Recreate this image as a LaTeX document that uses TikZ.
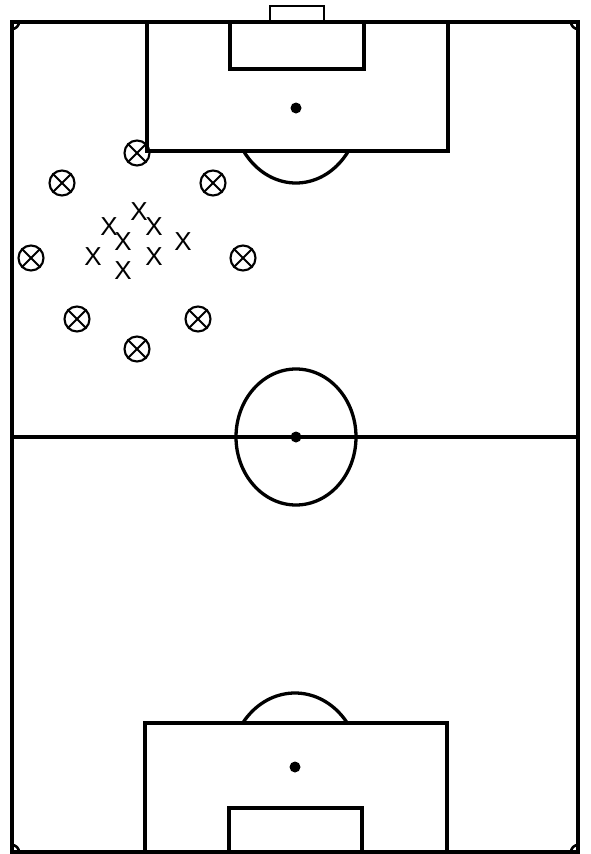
\documentclass[tikz,border=0pt]{standalone}
\usepackage{fontspec}
\setmainfont{Liberation Sans}
\begin{document}
\begin{tikzpicture}[x=1pt,y=-1pt,
  pitchline/.style={line width=3.3pt, line join=miter},
  thinline/.style={line width=2.6pt},
  spot/.style={circle, fill=black, inner sep=0pt, minimum size=11pt},
  opp/.style={circle, draw, line width=2.1pt, minimum size=25pt, inner sep=0pt},
  att/.style={inner sep=0pt, font=\fontsize{26}{26}\selectfont}]
\useasboundingbox (0,0) rectangle (590,854);
\fill[white] (0,0) rectangle (590,854);
% pitch outline and halfway line
\draw[pitchline] (12,22) rectangle (578,852);
\draw[pitchline] (12,437) -- (578,437);
% centre circle and spot
\draw[pitchline] (296,437) ellipse [x radius=60, y radius=68];
\node[spot] (cs) at (296,437) {};
% top end
\draw[pitchline] (147,22) rectangle (448,151);
\draw[pitchline] (230,22) rectangle (364,69);
\draw[thinline] (270,22) -- (270,6) -- (324,6) -- (324,22);
\node[spot] (ts) at (296,108) {};
\begin{scope}
  \clip (0,152) rectangle (590,300);
  \draw[pitchline] (296,108) ellipse [x radius=64, y radius=75];
\end{scope}
% bottom end
\draw[pitchline] (145,723) rectangle (447,852);
\draw[pitchline] (229,808) rectangle (362,852);
\node[spot] (bs) at (295,767) {};
\begin{scope}
  \clip (0,600) rectangle (590,722);
  \draw[pitchline] (295,767) ellipse [x radius=65, y radius=74];
\end{scope}
% corner arcs
\begin{scope}
  \clip (12,22) rectangle (578,852);
  \draw[thinline] (12,22) circle[radius=7];
  \draw[thinline] (578,22) circle[radius=7];
  \draw[thinline] (12,852) circle[radius=7];
  \draw[thinline] (578,852) circle[radius=7];
\end{scope}
% opponents (circled crosses)
\node[opp] (o1) at (137,153) {};
\node[opp] (o2) at (62,183) {};
\node[opp] (o3) at (213,183) {};
\node[opp] (o4) at (31,258) {};
\node[opp] (o5) at (243,258) {};
\node[opp] (o6) at (77,319) {};
\node[opp] (o7) at (198,319) {};
\node[opp] (o8) at (137,349) {};
\foreach \n in {o1,o2,o3,o4,o5,o6,o7,o8}{
  \draw[line width=2.1pt] (\n.north east) -- (\n.south west);
  \draw[line width=2.1pt] (\n.north west) -- (\n.south east);
}
% attackers
\node[att] (x1) at (139,212) {X};
\node[att] (x2) at (109,227) {X};
\node[att] (x3) at (154,227) {X};
\node[att] (x4) at (123,242) {X};
\node[att] (x5) at (183,242) {X};
\node[att] (x6) at (93,257) {X};
\node[att] (x7) at (154,257) {X};
\node[att] (x8) at (123,271) {X};
\end{tikzpicture}
\end{document}
